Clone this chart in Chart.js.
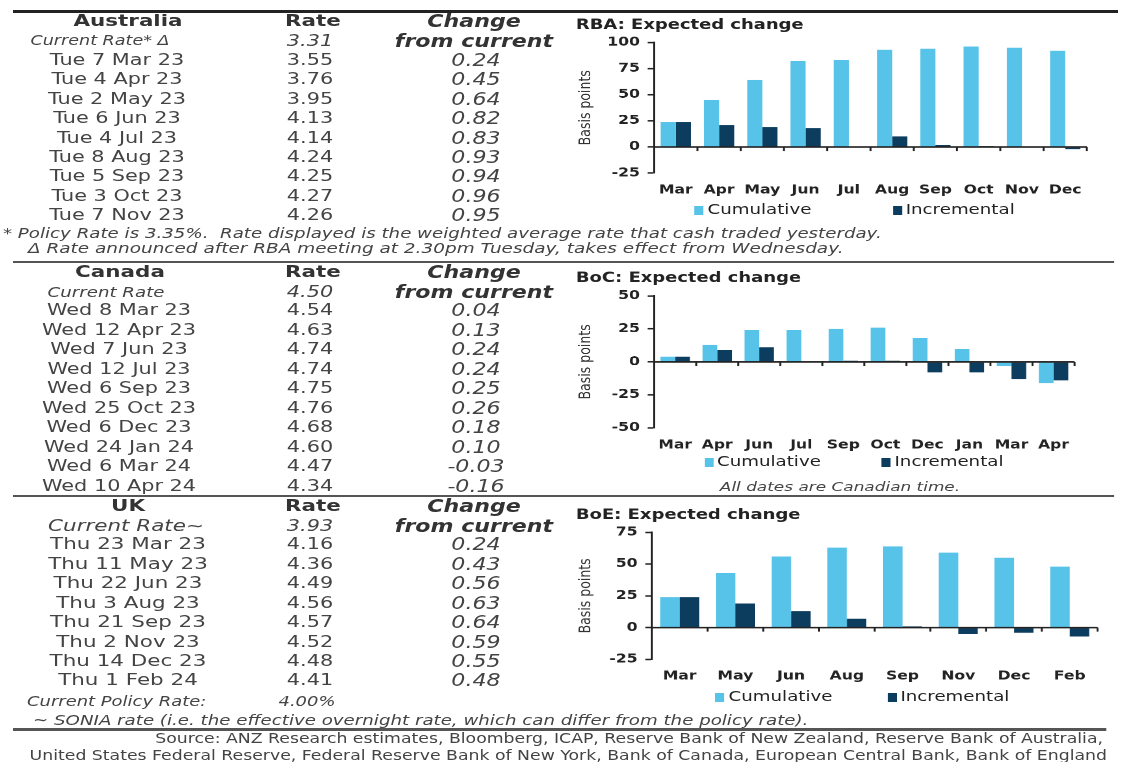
<!DOCTYPE html>
<html lang="en">
  <head>
    <meta charset="UTF-8" />
    <title>Expected policy rate changes</title>
    <script src="https://cdn.jsdelivr.net/npm/chart.js"></script>
    <style>
      body {
        margin: 0;
        background: #fff;
        overflow: hidden;
        width: 1122px;
        height: 762px;
      }
      /* everything in the source picture is stretched sideways, so draw narrow and stretch */
      #page {
        position: absolute;
        left: 0;
        top: 0;
        width: 863px;
        height: 762px;
        transform: scaleX(1.3);
        transform-origin: 0 0;
        font-family: "DejaVu Sans", Verdana, sans-serif;
        color: #444;
      }
      .t {
        position: absolute;
        white-space: pre;
        line-height: 1;
      }
      .hd { font-weight: bold; font-size: 16.5px; color: #333; }
      .hdi { font-weight: bold; font-style: italic; font-size: 17px; color: #333; }
      .dt { font-size: 16px; }
      .rv { font-size: 16px; }
      .cv { font-style: italic; font-size: 17px; }
      .ci { font-style: italic; }
      .fn { font-style: italic; font-size: 14.2px; }
      .src { font-size: 13.3px; }
      .rule { position: absolute; }
      .box { position: absolute; }
      .lg { position: absolute; white-space: nowrap; font-size: 14px; color: #222; line-height: 1; transform: translate(0, -50%); }
      .lg i { display: inline-block; width: 7px; height: 9px; margin-right: 3px; vertical-align: -1px; }
    </style>
  </head>
  <body>
    <div id="page">
      <div class="box" id="rbaBox"><canvas id="rbaChart"></canvas></div>
      <div class="box" id="bocBox"><canvas id="bocChart"></canvas></div>
      <div class="box" id="boeBox"><canvas id="boeChart"></canvas></div>
    </div>

    <script>
      // ---- table data ----
      const ausDates = ["Tue 7 Mar 23", "Tue 4 Apr 23", "Tue 2 May 23", "Tue 6 Jun 23", "Tue 4 Jul 23",
        "Tue 8 Aug 23", "Tue 5 Sep 23", "Tue 3 Oct 23", "Tue 7 Nov 23"];
      const ausRates = [3.55, 3.76, 3.95, 4.13, 4.14, 4.24, 4.25, 4.27, 4.26];
      const ausChanges = [0.24, 0.45, 0.64, 0.82, 0.83, 0.93, 0.94, 0.96, 0.95];
      const ausCurrent = 3.31;

      const canDates = ["Wed 8 Mar 23", "Wed 12 Apr 23", "Wed 7 Jun 23", "Wed 12 Jul 23", "Wed 6 Sep 23",
        "Wed 25 Oct 23", "Wed 6 Dec 23", "Wed 24 Jan 24", "Wed 6 Mar 24", "Wed 10 Apr 24"];
      const canRates = [4.54, 4.63, 4.74, 4.74, 4.75, 4.76, 4.68, 4.60, 4.47, 4.34];
      const canChanges = [0.04, 0.13, 0.24, 0.24, 0.25, 0.26, 0.18, 0.10, -0.03, -0.16];
      const canCurrent = 4.5;

      const ukDates = ["Thu 23 Mar 23", "Thu 11 May 23", "Thu 22 Jun 23", "Thu 3 Aug 23", "Thu 21 Sep 23",
        "Thu 2 Nov 23", "Thu 14 Dec 23", "Thu 1 Feb 24"];
      const ukRates = [4.16, 4.36, 4.49, 4.56, 4.57, 4.52, 4.48, 4.41];
      const ukChanges = [0.24, 0.43, 0.56, 0.63, 0.64, 0.59, 0.55, 0.48];
      const ukCurrent = 3.93;

      // ---- chart data (basis points) ----
      const rbaMonths = ["Mar", "Apr", "May", "Jun", "Jul", "Aug", "Sep", "Oct", "Nov", "Dec"];
      const rbaCumulative = [24, 45, 64, 82, 83, 93, 94, 96, 95, 92];
      const rbaIncremental = [24, 21, 19, 18, 0, 10, 2, 1, 0, -2];

      const bocMonths = ["Mar", "Apr", "Jun", "Jul", "Sep", "Oct", "Dec", "Jan", "Mar", "Apr"];
      const bocCumulative = [4, 13, 24, 24, 25, 26, 18, 10, -3, -16];
      const bocIncremental = [4, 9, 11, 0, 1, 1, -8, -8, -13, -14];

      const boeMonths = ["Mar", "May", "Jun", "Aug", "Sep", "Nov", "Dec", "Feb"];
      const boeCumulative = [24, 43, 56, 63, 64, 59, 55, 48];
      const boeIncremental = [24, 19, 13, 7, 1, -5, -4, -7];

      const seriesNames = ["Cumulative", "Incremental"];
      const seriesColors = ["#58c3e8", "#0d3d5e"];

      const S = 1.3; // sideways stretch of the picture
      const FONT = "'DejaVu Sans', Verdana, sans-serif";
      const page = document.getElementById("page");

      // x, y are picture coordinates (centre of text unless align given)
      function put(text, x, y, cls, align, size) {
        const d = document.createElement("div");
        d.className = "t " + cls;
        d.textContent = text;
        d.style.left = x / S + "px";
        d.style.top = y + "px";
        if (size) d.style.fontSize = size + "px";
        d.style.transform =
          align === "l" ? "translate(0,-50%)" : align === "r" ? "translate(-100%,-50%)" : "translate(-50%,-50%)";
        page.appendChild(d);
      }

      function rule(x1, x2, y, h, color) {
        const d = document.createElement("div");
        d.className = "rule";
        d.style.left = x1 / S + "px";
        d.style.width = (x2 - x1) / S + "px";
        d.style.top = y + "px";
        d.style.height = h + "px";
        d.style.background = color;
        page.appendChild(d);
      }

      function table(sec) {
        put(sec.name, sec.nameX, sec.y0, "hd");
        put("Rate", 313, sec.y0, "hd");
        put("Change", 474, sec.y0, "hdi");
        put(sec.curLabel, sec.curX, sec.y0 + 19.5, "ci", null, sec.curSize);
        put(sec.current.toFixed(2), 310, sec.y0 + 19.5, "ci rv");
        put("from current", 474, sec.y0 + 19.5, "hdi");
        sec.dates.forEach((d, i) => {
          const y = sec.y1 + i * sec.step;
          put(d, sec.dateX, y, "dt", null, sec.dateSize);
          put(sec.rates[i].toFixed(2), 310, y, "rv");
          put(sec.changes[i].toFixed(2), 476, y, "cv");
        });
      }

      rule(13, 1118, 9.5, 3.5, "#222");
      table({ name: "Australia", nameX: 128, y0: 21, curLabel: "Current Rate* \u0394", curX: 100, curSize: 13.5,
        current: ausCurrent, dates: ausDates, rates: ausRates, changes: ausChanges, dateX: 117, y1: 60, step: 19.4 });
      put("* Policy Rate is 3.35%.  Rate displayed is the weighted average rate that cash traded yesterday.", 3, 233.3, "fn", "l", 14);
      put("\u0394 Rate announced after RBA meeting at 2.30pm Tuesday, takes effect from Wednesday.", 28, 248, "fn", "l");
      rule(13, 1114, 260.5, 2.5, "#555");

      table({ name: "Canada", nameX: 120, y0: 272.3, curLabel: "Current Rate", curX: 106, curSize: 14,
        current: canCurrent, dates: canDates, rates: canRates, changes: canChanges, dateX: 119, y1: 310, step: 19.5 });
      put("All dates are Canadian time.", 840, 486, "fn", null, 13);
      rule(13, 1114, 494.5, 2.5, "#555");

      table({ name: "UK", nameX: 128, y0: 506, curLabel: "Current Rate~", curX: 126, curSize: 16.5,
        current: ukCurrent, dates: ukDates, rates: ukRates, changes: ukChanges, dateX: 128, dateSize: 16.5, y1: 544.3, step: 19.45 });
      put("Current Policy Rate:", 27, 701.7, "fn", "l", 13.8);
      put("4.00%", 307, 701.7, "fn", null, 13.8);
      put("~ SONIA rate (i.e. the effective overnight rate, which can differ from the policy rate).", 33, 719.5, "fn", "l", 14);
      rule(13, 1106, 728, 2.5, "#555");
      put("Source: ANZ Research estimates, Bloomberg, ICAP, Reserve Bank of New Zealand, Reserve Bank of Australia,", 1103, 739, "src", "r");
      put("United States Federal Reserve, Federal Reserve Bank of New York, Bank of Canada, European Central Bank, Bank of England", 1107, 756, "src", "r");

      // ---- charts ----
      const zeroLine = {
        id: "zeroLine",
        afterDatasetsDraw(chart) {
          const { ctx, chartArea, scales } = chart;
          const x = scales.x;
          const y0 = scales.y.getPixelForValue(0);
          ctx.save();
          ctx.strokeStyle = "#222";
          ctx.lineWidth = 1.5;
          ctx.beginPath();
          ctx.moveTo(chartArea.left, y0);
          ctx.lineTo(chartArea.right, y0);
          const n = x.ticks.length;
          for (let i = 1; i <= n; i++) {
            const bx = i < n ? (x.getPixelForTick(i - 1) + x.getPixelForTick(i)) / 2 : chartArea.right;
            ctx.moveTo(bx, y0);
            ctx.lineTo(bx, y0 + 4);
          }
          ctx.stroke();
          ctx.restore();
        },
      };

      function legend(y, xs) {
        seriesNames.forEach((name, i) => {
          const d = document.createElement("div");
          d.className = "lg";
          d.style.left = xs[i] / S + "px";
          d.style.top = y + "px";
          d.innerHTML = '<i style="background:' + seriesColors[i] + '"></i>' + name;
          page.appendChild(d);
        });
      }

      function barChart(id, box, title, months, cum, inc, yMin, yMax) {
        const holder = document.getElementById(id + "Box");
        holder.style.left = box.left + "px";
        holder.style.top = box.top + "px";
        holder.style.width = box.width + "px";
        holder.style.height = box.height + "px";

        return new Chart(document.getElementById(id + "Chart"), {
          type: "bar",
          data: {
            labels: months,
            datasets: [cum, inc].map((data, i) => ({
              label: seriesNames[i],
              data: data,
              backgroundColor: seriesColors[i],
              categoryPercentage: 0.7,
              barPercentage: 1,
            })),
          },
          options: {
            responsive: true,
            maintainAspectRatio: false,
            animation: false,
            devicePixelRatio: 2,
            layout: { padding: 0 },
            plugins: {
              legend: { display: false },
              tooltip: { enabled: false },
              title: {
                display: true,
                text: title,
                align: "start",
                color: "#222",
                font: { family: FONT, size: 13.8, weight: "bold" },
                padding: { top: 5, bottom: box.pb },
              },
            },
            scales: {
              x: {
                grid: { display: false, drawTicks: false },
                border: { display: false },
                ticks: {
                  color: "#222",
                  font: { family: FONT, size: 12, weight: "bold" },
                  padding: 10,
                  maxRotation: 0,
                  autoSkip: false,
                },
                afterFit: (s) => { s.height = 26; },
              },
              y: {
                min: yMin,
                max: yMax,
                ticks: {
                  stepSize: 25,
                  color: "#222",
                  font: { family: FONT, size: 12, weight: "bold" },
                  padding: 6,
                },
                grid: { drawOnChartArea: false, drawTicks: true, tickLength: 5, tickColor: "#222", tickWidth: 1.5 },
                border: { display: true, color: "#222", width: 1.5 },
                title: {
                  display: true,
                  text: "Basis points",
                  color: "#333",
                  font: { family: FONT, size: 12.5 },
                  padding: 0,
                },
                afterFit: (s) => { s.width = box.yw; },
              },
            },
          },
          plugins: [zeroLine],
        });
      }

      barChart("rba", { left: 443, top: 12, width: 399, height: 186.7, yw: 60.2, pb: 8.7 },
        "RBA: Expected change", rbaMonths, rbaCumulative, rbaIncremental, -25, 100);
      legend(209.3, [694.5, 892.7]);

      barChart("boc", { left: 443, top: 265.2, width: 389.3, height: 188.5, yw: 60.2, pb: 9.2 },
        "BoC: Expected change", bocMonths, bocCumulative, bocIncremental, -50, 50);
      legend(461, [704, 881.5]);

      barChart("boe", { left: 443, top: 501.9, width: 401.6, height: 183.4, yw: 58.3, pb: 8.8 },
        "BoE: Expected change", boeMonths, boeCumulative, boeIncremental, -25, 75);
      legend(696, [715.6, 887.4]);
    </script>
  </body>
</html>
